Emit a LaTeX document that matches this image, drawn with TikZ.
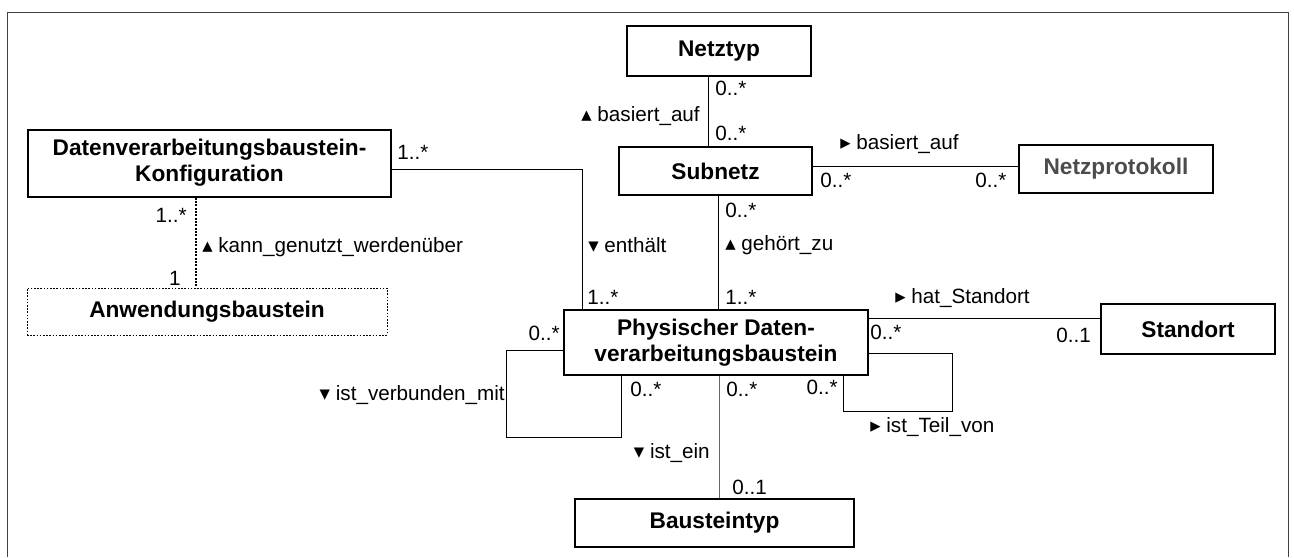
\documentclass[tikz,border=0pt]{standalone}
\usepackage{fontspec}
\setmainfont{Liberation Sans}
\newfontfamily\symfont{DejaVu Sans}
\newcommand{\tup}{{\symfont ▴}}
\newcommand{\tdn}{{\symfont ▾}}
\newcommand{\trt}{{\symfont ▸}}

\begin{document}
\begin{tikzpicture}[x=0.75pt, y=-0.75pt,
	box/.style={rectangle, draw=black, line width=0.8pt, align=center, inner sep=0pt, font=\fontsize{17}{19.5}\selectfont\bfseries},
	lbl/.style={inner sep=0pt, font=\fontsize{15.5}{18}\selectfont},
	conn/.style={draw=black, line width=0.6pt}]
	\useasboundingbox (0,0) rectangle (1294,557);
	\draw [line width=0.7pt, black!75] (7,557) -- (7,12) -- (1288,12) -- (1288,557);

	\node [box, minimum width=138pt, minimum height=37.5pt] (netztyp) at (719,51) {Netztyp};
	\node [box, minimum width=144.75pt, minimum height=36pt] (subnetz) at (715.5,171) {Subnetz};
	\node [box, minimum width=272.25pt, minimum height=50.25pt] (konfig) at (209.5,163.5) {\raisebox{-2pt}{\begin{tabular}{@{}c@{}}Datenverarbeitungsbaustein-\\Konfiguration\end{tabular}}};
	\node [box, dash pattern=on 1.2pt off 1.2pt, line width=0.7pt, minimum width=270pt, minimum height=35.25pt] (anwend) at (207,311.5) {Anwendungsbaustein};
	\node [box, text=black!70, minimum width=145.5pt, minimum height=36pt] (netzprot) at (1116,169) {Netzprotokoll};
	\node [box, minimum width=130.5pt, minimum height=37.5pt] (standort) at (1188,329) {Standort};
	\node [box, minimum width=228pt, minimum height=48.75pt] (pdv) at (716,342.5) {Physischer Daten-\\verarbeitungsbaustein};
	\node [box, minimum width=209.25pt, minimum height=36pt] (btyp) at (714.5,523) {Bausteintyp};

	\coordinate (xnt) at (708,0);
	\coordinate (ysn) at (0,166);
	\coordinate (xen) at (582,169);
	\coordinate (xkg) at (196,0);
	\coordinate (xgz) at (718,0);
	\coordinate (yhs) at (0,318);
	\coordinate (tv1) at (952,353);
	\coordinate (tv2) at (843,411);
	\coordinate (vm1) at (506,350);
	\coordinate (vm2) at (621,437);
	\coordinate (xie) at (719.5,0);

	\draw [conn] (netztyp.south -| xnt) -- (subnetz.north -| xnt);
	\draw [conn] (subnetz.east |- ysn) -- (netzprot.west |- ysn);
	\draw [conn] (konfig.east |- xen) -- (xen) -- (pdv.north -| xen);
	\draw [conn, dash pattern=on 1.6pt off 0.9pt, line width=1.5pt] (konfig.south -| xkg) -- (anwend.north -| xkg);
	\draw [conn] (subnetz.south -| xgz) -- (pdv.north -| xgz);
	\draw [conn] (pdv.east |- yhs) -- (standort.west |- yhs);
	\draw [conn] (pdv.east |- tv1) -- (tv1) |- (tv2) -- (pdv.south -| tv2);
	\draw [conn] (pdv.west |- vm1) -- (vm1) |- (vm2) -- (pdv.south -| vm2);
	\draw [conn, black!60] (pdv.south -| xie) -- (btyp.north -| xie);

	\node [lbl, anchor=west] (nt1) at (715,88) {0..*};
	\node [lbl, anchor=west] (nt2) at (715,133) {0..*};
	\node [lbl, anchor=east] (nt3) at (700,116) {\tup\ basiert\_auf};
	\node [lbl, anchor=west] (np1) at (840,144) {\trt\ basiert\_auf};
	\node [lbl, anchor=west] (np2) at (820,180) {0..*};
	\node [lbl, anchor=west] (np3) at (975,180) {0..*};
	\node [lbl, anchor=west] (en1) at (397,152) {1..*};
	\node [lbl, anchor=west] (en2) at (588,245) {\tdn\ enthält};
	\node [lbl, anchor=west] (en3) at (587,297) {1..*};
	\node [lbl, anchor=east] (kg1) at (187,215) {1..*};
	\node [lbl, anchor=east] (kg2) at (181,278) {1};
	\node [lbl, anchor=west] (kg3) at (202,247) {\tup\ kann\_genutzt\_werdenüber};
	\node [lbl, anchor=west] (gz1) at (725,210) {0..*};
	\node [lbl, anchor=west] (gz2) at (725,245) {\tup\ gehört\_zu};
	\node [lbl, anchor=west] (gz3) at (725,297) {1..*};
	\node [lbl, anchor=west] (hs1) at (895,298) {\trt\ hat\_Standort};
	\node [lbl, anchor=west] (hs2) at (870,332) {0..*};
	\node [lbl, anchor=east] (hs3) at (1091,335) {0..1};
	\node [lbl, anchor=east] (vm3) at (560,333) {0..*};
	\node [lbl, anchor=west] (vm4) at (630,389) {0..*};
	\node [lbl, anchor=east] (vm5) at (505,395) {\tdn\ ist\_verbunden\_mit};
	\node [lbl, anchor=east] (tv3) at (838,387) {0..*};
	\node [lbl, anchor=west] (tv4) at (870,427) {\trt\ ist\_Teil\_von};
	\node [lbl, anchor=west] (ie1) at (726,389) {0..*};
	\node [lbl, anchor=east] (ie2) at (710,453) {\tdn\ ist\_ein};
	\node [lbl, anchor=west] (ie3) at (732,487) {0..1};
\end{tikzpicture}
\end{document}
